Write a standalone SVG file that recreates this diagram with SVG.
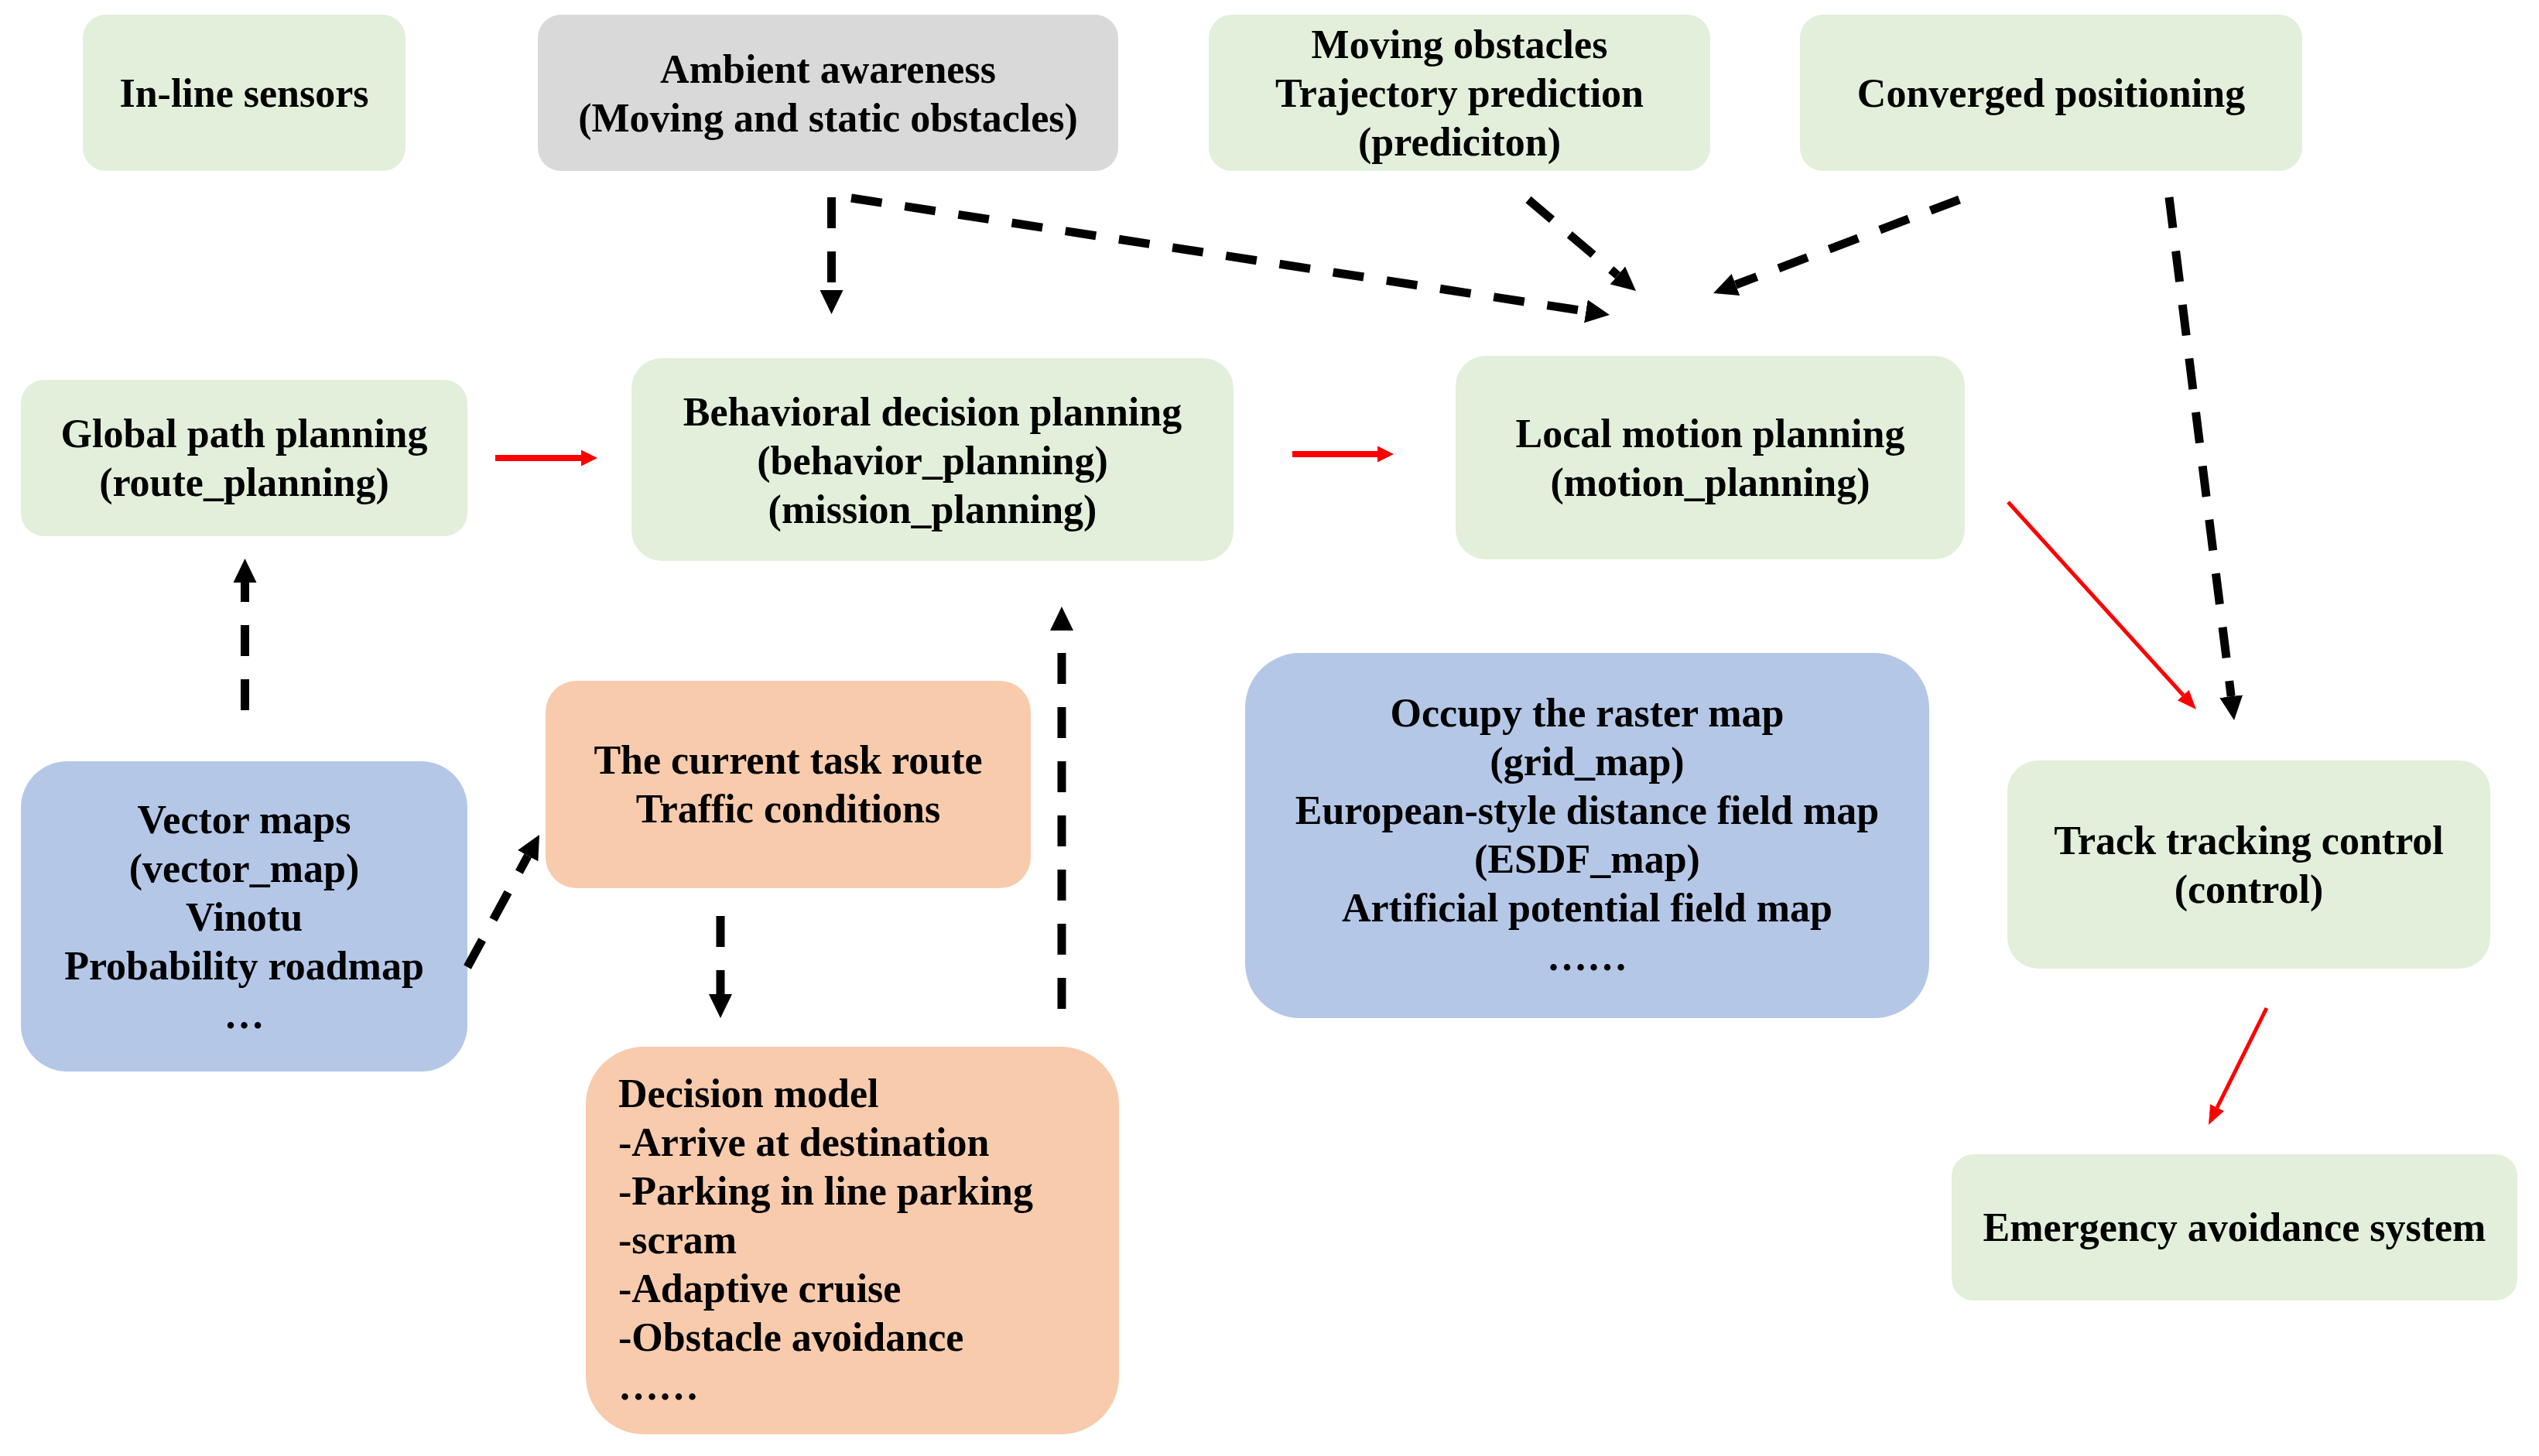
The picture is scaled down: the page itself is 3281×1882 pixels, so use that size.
<svg xmlns="http://www.w3.org/2000/svg" width="3281" height="1882" viewBox="0 0 3281 1882">
<defs>
<style>
.t{font-family:"Liberation Serif","Times New Roman",serif;font-weight:bold;font-size:52px;fill:#000;text-anchor:middle}
.l{text-anchor:start}
.g{fill:#E2EFDA}
.gr{fill:#D9D9D9}
.b{fill:#B4C7E7}
.o{fill:#F8CBAD}
.dash{stroke:#000;stroke-width:11;stroke-dasharray:40 30;fill:none;marker-end:url(#ab)}
.red{stroke:#FF0000;fill:none}
</style>
<marker id="ab" markerUnits="userSpaceOnUse" markerWidth="32" markerHeight="32" viewBox="0 -16 32 32" refX="0" refY="0" orient="auto"><path d="M0,-15 L31,0 L0,15 Z" fill="#000"/></marker>
<marker id="rb" markerUnits="userSpaceOnUse" markerWidth="22" markerHeight="22" viewBox="0 -11 22 22" refX="0" refY="0" orient="auto"><path d="M0,-10.5 L21,0 L0,10.5 Z" fill="#FF0000"/></marker>
<marker id="rs" markerUnits="userSpaceOnUse" markerWidth="26" markerHeight="22" viewBox="0 -11 26 22" refX="0" refY="0" orient="auto"><path d="M0,-10 L25,0 L0,10 Z" fill="#FF0000"/></marker>
</defs>
<rect width="3281" height="1882" fill="#fff"/>

<g id="inline-sensors"><rect class="g" x="107" y="19" width="417" height="202" rx="30"/><text class="t" x="315.5" y="138">In-line sensors</text></g>
<g id="ambient"><rect class="gr" x="695" y="19" width="750" height="202" rx="30"/><text class="t" x="1070" y="107">Ambient awareness</text><text class="t" x="1070" y="170">(Moving and static obstacles)</text></g>
<g id="moving-obstacles"><rect class="g" x="1562" y="19" width="648" height="202" rx="30"/><text class="t" x="1886" y="75">Moving obstacles</text><text class="t" x="1886" y="138">Trajectory prediction</text><text class="t" x="1886" y="201">(prediciton)</text></g>
<g id="converged"><rect class="g" x="2326" y="19" width="649" height="202" rx="30"/><text class="t" x="2650.5" y="138">Converged positioning</text></g>

<g id="global"><rect class="g" x="27" y="491" width="577" height="202" rx="30"/><text class="t" x="315.5" y="578">Global path planning</text><text class="t" x="315.5" y="641">(route_planning)</text></g>
<g id="behavioral"><rect class="g" x="816" y="463" width="778" height="262" rx="39"/><text class="t" x="1205" y="550">Behavioral decision planning</text><text class="t" x="1205" y="613">(behavior_planning)</text><text class="t" x="1205" y="676">(mission_planning)</text></g>
<g id="local"><rect class="g" x="1881" y="460" width="658" height="263" rx="39"/><text class="t" x="2210" y="578">Local motion planning</text><text class="t" x="2210" y="641">(motion_planning)</text></g>

<g id="vector-maps"><rect class="b" x="27" y="984" width="577" height="401" rx="60"/><text class="t" x="315.5" y="1077">Vector maps</text><text class="t" x="315.5" y="1140">(vector_map)</text><text class="t" x="315.5" y="1203">Vinotu</text><text class="t" x="315.5" y="1266">Probability roadmap</text><text class="t" x="315.5" y="1329">…</text></g>
<g id="current-task"><rect class="o" x="705" y="880" width="627" height="268" rx="40"/><text class="t" x="1018.5" y="1000">The current task route</text><text class="t" x="1018.5" y="1063">Traffic conditions</text></g>
<g id="decision-model"><rect class="o" x="757" y="1353" width="689" height="501" rx="75"/>
<text class="t l" x="799" y="1431">Decision model</text>
<text class="t l" x="799" y="1494">-Arrive at destination</text>
<text class="t l" x="799" y="1557">-Parking in line parking</text>
<text class="t l" x="799" y="1620">-scram</text>
<text class="t l" x="799" y="1683">-Adaptive cruise</text>
<text class="t l" x="799" y="1746">-Obstacle avoidance</text>
<text class="t l" x="799" y="1809">……</text></g>
<g id="occupy"><rect class="b" x="1609" y="844" width="884" height="472" rx="71"/>
<text class="t" x="2051" y="939">Occupy the raster map</text>
<text class="t" x="2051" y="1002">(grid_map)</text>
<text class="t" x="2051" y="1065">European-style distance field map</text>
<text class="t" x="2051" y="1128">(ESDF_map)</text>
<text class="t" x="2051" y="1191">Artificial potential field map</text>
<text class="t" x="2051" y="1254">……</text></g>
<g id="track"><rect class="g" x="2594" y="983" width="624" height="269" rx="40"/><text class="t" x="2906" y="1104">Track tracking control</text><text class="t" x="2906" y="1167">(control)</text></g>
<g id="emergency"><rect class="g" x="2522" y="1492" width="731" height="189" rx="28"/><text class="t" x="2887.5" y="1604">Emergency avoidance system</text></g>

<g id="connectors">
<path class="dash" d="M1074.5,255 L1074.5,375"/>
<path class="dash" d="M1100,256 L2049.4,402.3"/>
<path class="dash" d="M1975,258 L2090.4,355.9"/>
<path class="dash" d="M2532,258 L2243,368"/>
<path class="dash" d="M2803,255 L2883.2,900.2"/>
<path class="dash" d="M316.5,918 L316.5,753"/>
<path class="dash" d="M604,1250 L682.2,1106.2"/>
<path class="dash" d="M931,1184 L931,1285"/>
<path class="dash" d="M1372,1304 L1372,815"/>
<path class="red" stroke-width="8" marker-end="url(#rb)" d="M640,592 L751,592"/>
<path class="red" stroke-width="8" marker-end="url(#rb)" d="M1670,587 L1780,587"/>
<path class="red" stroke-width="5" marker-end="url(#rs)" d="M2595,649 L2821.2,898.5"/>
<path class="red" stroke-width="5" marker-end="url(#rs)" d="M2929,1303 L2865.1,1431.6"/>
</g>
</svg>
